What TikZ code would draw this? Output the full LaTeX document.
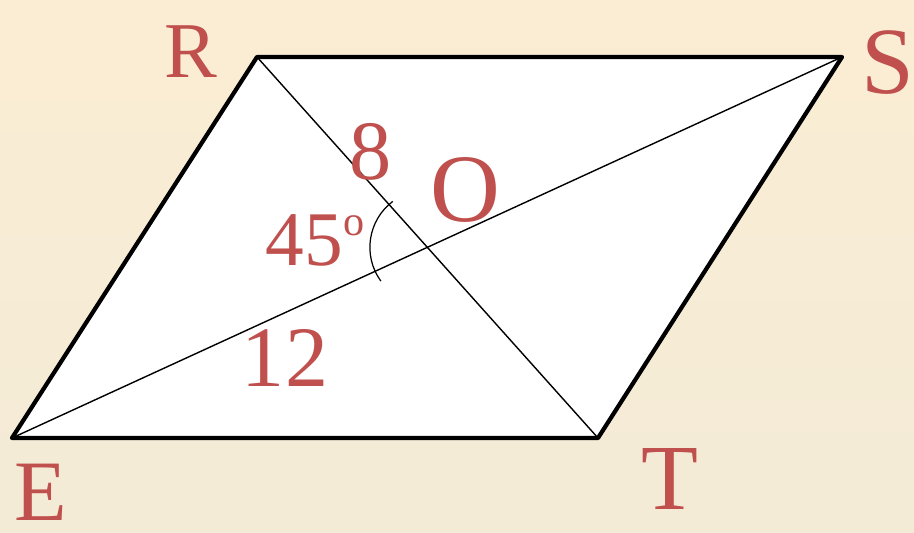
\documentclass[tikz,border=0pt]{standalone}
\usepackage{fontspec}
\setmainfont{Liberation Serif}
\usetikzlibrary{calc}
\definecolor{labred}{RGB}{192,80,77}
\definecolor{bgtop}{RGB}{251,237,212}
\definecolor{bgbot}{RGB}{243,235,214}

\begin{document}
\begin{tikzpicture}[lbl/.style={text=labred,inner sep=0pt,font=\fontsize{#1}{#1}\selectfont},
    side/.style={line width=2.4pt,line join=round},
    diag/.style={line width=0.8pt}]
  \shade[top color=bgtop,bottom color=bgbot] (0,0) rectangle (18.28,10.66);
  \useasboundingbox (0,0) rectangle (18.28,10.66);
  % vertices of the parallelogram
  \coordinate (E) at (0.24,1.90);
  \coordinate (R) at (5.14,9.52);
  \coordinate (S) at (16.84,9.52);
  \coordinate (T) at (11.96,1.90);
  \coordinate (O) at (intersection of R--T and E--S);
  \fill[white] (E)--(R)--(S)--(T)--cycle;
  \draw[diag] (R)--(T);
  \draw[diag] (E)--(S);
  \draw[side] (E)--(R)--(S)--(T)--cycle;
  % angle between the diagonals
  \draw[line width=0.7pt] ($(O)+(127:1.15)$) arc (127:216:1.15);
  % labels
  \node[lbl=45pt] (labR) at (3.82,9.62) {R};
  \node[lbl=54pt] (labS) at (17.76,9.40) {S};
  \node[lbl=49pt] (labE) at (0.82,0.82) {E};
  \node[lbl=53pt] (labT) at (13.40,1.08) {T};
  \node[lbl=55pt] (labO) at (9.30,6.86) {O};
  \node[lbl=48pt] (len8) at (7.42,7.62) {8};
  \node[lbl=44pt] (ang) at (6.30,5.86) {45\raisebox{17pt}{\fontsize{24pt}{24pt}\selectfont o}};
  \node[lbl=49pt] (len12) at (5.70,3.50) {12};
\end{tikzpicture}
\end{document}
